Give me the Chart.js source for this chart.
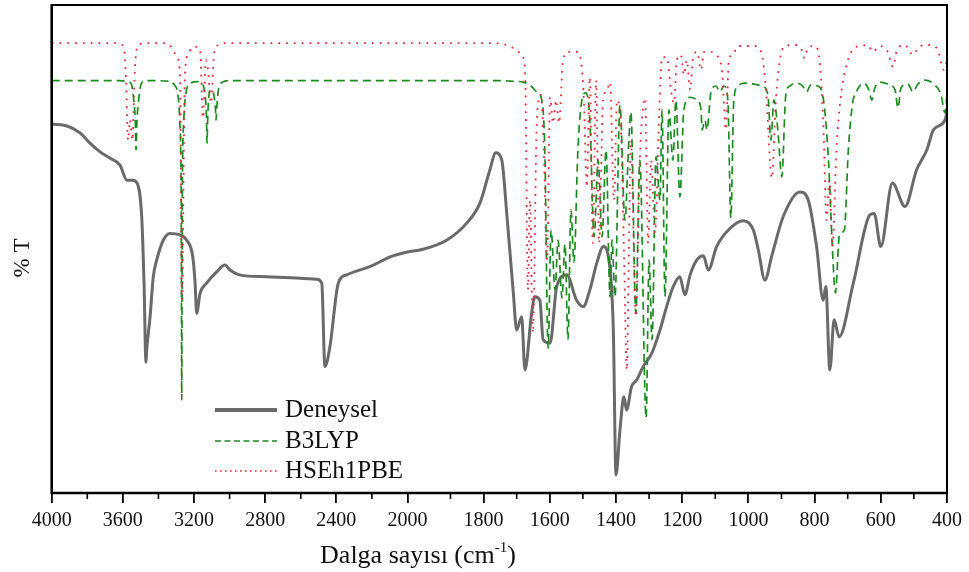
<!DOCTYPE html>
<html>
<head>
<meta charset="utf-8">
<script src="https://cdn.jsdelivr.net/npm/chart.js@4.4.0/dist/chart.umd.min.js"></script>
<style>
  html, body { margin: 0; padding: 0; background: #fff; }
  #kutu { width: 969px; height: 572px; }
</style>
</head>
<body>
<div id="kutu"><canvas id="grafik" width="969" height="572"></canvas></div>
<script>
// Deneysel spektrum: [dalga sayısı (cm-1), %T]
const deneysel = [
    [4000, 75.6], [3914, 75.2], [3841, 73.8], [3785, 71.7], [3728, 69.9], [3672, 68.6], [3616, 67.2],
    [3577, 64.1], [3543, 64.1], [3520, 63.5], [3494, 56.6], [3481, 43.0], [3470, 26.8], [3466, 29.3],
    [3447, 36.1], [3429, 44.3], [3410, 47.7], [3373, 51.8], [3335, 53.2], [3279, 52.9], [3241, 51.8],
    [3207, 48.4], [3194, 43.0], [3185, 36.8], [3166, 40.9], [3129, 43.0], [3073, 45.3], [3026, 46.7],
    [2998, 45.7], [2943, 44.7], [2792, 44.3], [2604, 44.0], [2510, 43.8], [2482, 43.0], [2464, 25.9],
    [2436, 30.0], [2389, 43.0], [2342, 44.7], [2192, 46.7], [2098, 48.4], [2000, 49.4], [1971, 49.8],
    [1909, 51.8], [1851, 55.3], [1811, 59.4], [1781, 66.2], [1763, 69.7], [1745, 68.2], [1730, 57.3],
    [1710, 40.9], [1700, 33.4], [1685, 36.1], [1675, 25.2], [1655, 36.8], [1645, 40.2], [1630, 39.5],
    [1620, 31.4], [1599, 30.7], [1579, 42.3], [1549, 44.7], [1519, 39.5], [1499, 38.2], [1479, 41.6],
    [1458, 47.1], [1438, 50.5], [1423, 48.4], [1408, 33.4], [1400, 3.7], [1388, 12.9], [1376, 19.7],
    [1368, 17.0], [1353, 21.8], [1337, 23.2], [1318, 25.9], [1292, 28.6], [1267, 33.4], [1247, 38.2],
    [1227, 42.3], [1207, 44.3], [1192, 40.6], [1176, 44.7], [1156, 47.7], [1136, 48.6], [1121, 45.7],
    [1096, 50.5], [1056, 54.2], [1015, 55.8], [985, 53.9], [970, 49.8], [950, 43.6], [930, 48.4],
    [895, 56.6], [844, 61.7], [819, 60.0], [794, 50.5], [774, 39.5], [766, 42.3], [754, 25.2],
    [741, 35.5], [726, 32.0], [683, 43.0], [633, 57.0], [620, 57.3], [600, 50.5], [565, 63.5],
    [527, 58.7], [492, 66.2], [461, 70.3], [441, 74.4], [406, 76.4], [400, 78.1]
];

// B3LYP hesaplanan spektrum
const b3lyp = [
    [4000, 84.5], [3620, 84.5], [3590, 84.4], [3555, 84.0], [3540, 81.0], [3530, 76.0], [3526, 70.3],
    [3521, 76.0], [3510, 81.0], [3495, 84.0], [3470, 84.5], [3340, 84.4], [3310, 83.6], [3290, 81.5],
    [3280, 76.0], [3272, 60.0], [3269, 19.1], [3266, 60.0], [3258, 76.0], [3245, 82.0], [3220, 84.0],
    [3180, 84.3], [3150, 83.6], [3136, 81.0], [3130, 77.0], [3127, 71.7], [3123, 77.0], [3112, 82.4],
    [3100, 82.6], [3088, 81.5], [3080, 79.0], [3076, 76.4], [3072, 79.0], [3062, 82.8], [3040, 84.2],
    [3000, 84.5], [1760, 84.5], [1720, 84.4], [1681, 84.2], [1660, 83.6], [1639, 82.2], [1624, 80.5],
    [1615, 70.3], [1605, 29.7], [1596, 53.9], [1584, 41.6], [1575, 51.8], [1563, 40.0], [1554, 51.0],
    [1545, 31.4], [1536, 58.0], [1527, 47.3], [1515, 70.3], [1503, 80.5], [1491, 82.0], [1479, 76.4],
    [1466, 52.5], [1454, 68.2], [1442, 52.5], [1430, 70.3], [1418, 40.2], [1412, 51.8], [1403, 40.2],
    [1388, 79.5], [1373, 55.9], [1361, 72.3], [1355, 78.1], [1340, 36.9], [1328, 68.2], [1309, 15.4],
    [1300, 47.7], [1291, 31.4], [1279, 68.9], [1267, 60.0], [1261, 78.5], [1252, 40.2], [1240, 78.5],
    [1228, 68.2], [1219, 80.5], [1207, 60.7], [1195, 78.5], [1176, 81.1], [1155, 80.5], [1143, 78.5],
    [1140, 74.4], [1131, 76.4], [1125, 74.4], [1113, 82.2], [1098, 83.4], [1086, 82.2], [1074, 83.4],
    [1062, 80.5], [1053, 56.4], [1044, 80.5], [1032, 83.4], [1011, 84.0], [959, 83.4], [941, 81.6],
    [932, 72.3], [923, 80.5], [911, 74.4], [899, 64.8], [887, 81.6], [875, 83.4], [854, 84.0],
    [836, 83.4], [824, 82.2], [812, 83.6], [791, 83.4], [773, 80.5], [758, 68.2], [746, 49.8],
    [737, 41.0], [725, 52.9], [710, 53.9], [698, 70.3], [686, 79.5], [671, 82.6], [651, 84.0],
    [636, 82.6], [627, 80.5], [618, 83.0], [603, 84.2], [579, 83.8], [557, 82.6], [548, 78.9],
    [539, 83.0], [518, 83.8], [503, 82.2], [488, 83.8], [467, 84.6], [437, 83.6], [418, 81.6],
    [406, 77.9], [400, 81.6]
];

// HSEh1PBE hesaplanan spektrum
const hse = [
    [4000, 92.2], [3650, 92.2], [3616, 92.0], [3593, 90.8], [3582, 84.6], [3571, 72.3], [3560, 76.4],
    [3546, 72.3], [3535, 84.6], [3523, 90.8], [3504, 92.0], [3470, 92.2], [3363, 92.2], [3324, 91.2],
    [3296, 89.3], [3279, 85.7], [3268, 39.5], [3251, 85.7], [3234, 89.8], [3206, 91.4], [3183, 91.4],
    [3166, 90.8], [3150, 76.8], [3133, 88.7], [3121, 86.7], [3104, 79.9], [3088, 89.8], [3065, 91.8],
    [3026, 92.2], [1800, 92.2], [1750, 92.1], [1711, 91.2], [1690, 90.2], [1675, 87.3], [1666, 41.6],
    [1660, 60.0], [1651, 32.8], [1639, 76.4], [1627, 81.6], [1618, 70.3], [1608, 47.7], [1599, 81.1],
    [1590, 75.8], [1581, 80.5], [1572, 75.8], [1560, 88.7], [1545, 90.4], [1518, 90.4], [1506, 88.7],
    [1497, 80.5], [1488, 62.7], [1479, 85.2], [1470, 51.2], [1460, 84.6], [1451, 51.2], [1439, 80.5],
    [1427, 82.6], [1418, 84.2], [1406, 60.0], [1397, 80.5], [1385, 74.4], [1376, 49.8], [1367, 25.2],
    [1361, 49.8], [1355, 72.3], [1340, 36.1], [1328, 68.2], [1312, 80.9], [1303, 51.2], [1294, 68.2],
    [1282, 53.3], [1270, 76.4], [1261, 89.3], [1246, 89.3], [1234, 82.6], [1225, 79.9], [1216, 88.7],
    [1204, 89.8], [1195, 85.7], [1186, 88.7], [1176, 82.6], [1167, 89.3], [1155, 90.4], [1143, 86.7],
    [1134, 90.4], [1116, 90.4], [1098, 89.8], [1080, 86.7], [1068, 74.4], [1059, 88.7], [1047, 89.8],
    [1032, 91.6], [981, 91.6], [959, 89.8], [947, 82.6], [929, 64.5], [917, 80.5], [905, 88.7],
    [890, 91.6], [854, 91.8], [839, 90.8], [830, 89.1], [821, 91.2], [800, 91.6], [785, 88.7],
    [773, 74.4], [764, 55.9], [755, 64.1], [746, 50.4], [734, 70.3], [722, 80.5], [707, 86.7],
    [686, 90.8], [663, 91.6], [639, 91.8], [624, 90.4], [603, 91.6], [579, 90.4], [563, 87.3],
    [551, 90.8], [527, 91.8], [503, 89.8], [482, 91.6], [452, 91.8], [428, 90.8], [409, 86.7],
    [400, 88.7]
];

const anaTikler = [4000, 3600, 3200, 2800, 2400, 2000, 1800, 1600, 1400, 1200, 1000, 800, 600, 400];
const araTikler = [3800, 3400, 3000, 2600, 2200, 1900, 1700, 1500, 1300, 1100, 900, 700, 500];

// Eksen kırılması: [dalga sayısı, eksen oranı]
const kirilmalar = [[4000, 0], [2000, 0.3974], [1900, 0.4454], [400, 1]];

class KirikEksen extends Chart.LinearScale {
    static id = 'kirik';
    static defaults = {};

    getPixelForValue(value) {
        let oran = 0;
        if (value >= kirilmalar[0][0]) oran = 0;
        else if (value <= kirilmalar[kirilmalar.length - 1][0]) oran = 1;
        else {
            for (let i = 0; i < kirilmalar.length - 1; i++) {
                const [v0, d0] = kirilmalar[i];
                const [v1, d1] = kirilmalar[i + 1];
                if (value <= v0 && value >= v1) {
                    oran = d0 + (v0 - value) / (v0 - v1) * (d1 - d0);
                    break;
                }
            }
        }
        return this.getPixelForDecimal(oran);
    }

    getValueForPixel(pixel) {
        const oran = this.getDecimalForPixel(pixel);
        for (let i = 0; i < kirilmalar.length - 1; i++) {
            const [v0, d0] = kirilmalar[i];
            const [v1, d1] = kirilmalar[i + 1];
            if (oran >= d0 && oran <= d1) {
                return v0 - (oran - d0) / (d1 - d0) * (v0 - v1);
            }
        }
        return oran < 0 ? kirilmalar[0][0] : kirilmalar[kirilmalar.length - 1][0];
    }
}
Chart.register(KirikEksen);

function noktalar(seri) {
    return seri.map(p => ({ x: p[0], y: p[1] }));
}

const yaziTipi = '"Liberation Serif", "Times New Roman", serif';

const cizimEklentisi = {
    id: 'cizimEklentisi',
    afterDraw(chart) {
        const ctx = chart.ctx;
        const a = chart.chartArea;
        const x = chart.scales.x;
        ctx.save();

        // çerçeve
        ctx.strokeStyle = '#000';
        ctx.lineWidth = 2;
        ctx.beginPath();
        ctx.moveTo(a.left, a.top);
        ctx.lineTo(a.right, a.top);
        ctx.lineTo(a.right, a.bottom);
        ctx.stroke();
        ctx.lineWidth = 2.6;
        ctx.beginPath();
        ctx.moveTo(a.left, a.top - 1);
        ctx.lineTo(a.left, a.bottom);
        ctx.lineTo(a.right + 1, a.bottom);
        ctx.stroke();

        // ara tikler
        ctx.lineWidth = 1.6;
        araTikler.forEach(v => {
            const px = x.getPixelForValue(v);
            ctx.beginPath();
            ctx.moveTo(px, a.bottom);
            ctx.lineTo(px, a.bottom + 6);
            ctx.stroke();
        });

        // y ekseni başlığı
        ctx.fillStyle = '#111';
        ctx.font = '23px ' + yaziTipi;
        ctx.textAlign = 'center';
        ctx.textBaseline = 'middle';
        ctx.save();
        ctx.translate(23, (a.top + a.bottom) / 2 + 9);
        ctx.rotate(-Math.PI / 2);
        ctx.fillText('% T', 0, 0);
        ctx.restore();

        // x ekseni başlığı: Dalga sayısı (cm-1)
        const ana = 'Dalga sayısı (cm';
        const ust = '-1';
        const son = ')';
        ctx.textAlign = 'left';
        ctx.textBaseline = 'alphabetic';
        ctx.font = '26px ' + yaziTipi;
        const g1 = ctx.measureText(ana).width;
        const g3 = ctx.measureText(son).width;
        ctx.font = '15px ' + yaziTipi;
        const g2 = ctx.measureText(ust).width;
        let bx = 418 - (g1 + g2 + g3) / 2;
        const by = 563;
        ctx.font = '26px ' + yaziTipi;
        ctx.fillText(ana, bx, by);
        bx += g1;
        ctx.font = '15px ' + yaziTipi;
        ctx.fillText(ust, bx, by - 11);
        bx += g2;
        ctx.font = '26px ' + yaziTipi;
        ctx.fillText(son, bx, by);

        // lejant
        const satirlar = [
            { ds: 2, y: 410, dash: [] },
            { ds: 1, y: 441, dash: [6, 3.5] },
            { ds: 0, y: 471, dash: [1.6, 3.4] }
        ];
        ctx.font = '25px ' + yaziTipi;
        ctx.textBaseline = 'middle';
        satirlar.forEach(s => {
            const d = chart.data.datasets[s.ds];
            ctx.strokeStyle = d.borderColor;
            ctx.lineWidth = s.ds === 2 ? 4 : 1.6;
            ctx.setLineDash(s.dash);
            ctx.beginPath();
            ctx.moveTo(215, s.y);
            ctx.lineTo(277, s.y);
            ctx.stroke();
            ctx.setLineDash([]);
            ctx.fillStyle = '#111';
            ctx.fillText(d.label, 285, s.y);
        });

        ctx.restore();
    }
};

const grafik = new Chart(document.getElementById('grafik'), {
    type: 'line',
    data: {
        datasets: [
            {
                label: 'HSEh1PBE',
                data: noktalar(hse),
                borderColor: '#e3283c',
                borderWidth: 1.8,
                borderDash: [1.8, 6],
                pointRadius: 0,
                cubicInterpolationMode: 'monotone',
                order: 1
            },
            {
                label: 'B3LYP',
                data: noktalar(b3lyp),
                borderColor: '#1e8a22',
                borderWidth: 1.7,
                borderDash: [8, 5],
                pointRadius: 0,
                cubicInterpolationMode: 'monotone',
                order: 2
            },
            {
                label: 'Deneysel',
                data: noktalar(deneysel),
                borderColor: '#6a6a6a',
                borderWidth: 3,
                pointRadius: 0,
                cubicInterpolationMode: 'monotone',
                order: 3
            }
        ]
    },
    options: {
        responsive: false,
        animation: false,
        devicePixelRatio: 1,
        layout: { padding: { left: 51.7, right: 22, top: 5, bottom: 0 } },
        plugins: {
            legend: { display: false },
            tooltip: { enabled: false },
            title: { display: false }
        },
        scales: {
            x: {
                type: 'kirik',
                min: 400,
                max: 4000,
                afterBuildTicks: (eksen) => {
                    eksen.ticks = anaTikler.map(v => ({ value: v }));
                },
                afterFit: (eksen) => {
                    eksen.height = 79;
                },
                border: { display: false },
                grid: {
                    display: true,
                    drawOnChartArea: false,
                    drawTicks: true,
                    tickLength: 10,
                    color: '#000',
                    lineWidth: 1.8
                },
                ticks: {
                    autoSkip: false,
                    maxRotation: 0,
                    minRotation: 0,
                    padding: 6,
                    color: '#111',
                    font: { family: yaziTipi, size: 20 },
                    callback: (v) => String(v)
                }
            },
            y: {
                display: false,
                min: 0,
                max: 100
            }
        }
    },
    plugins: [cizimEklentisi]
});
</script>
</body>
</html>
